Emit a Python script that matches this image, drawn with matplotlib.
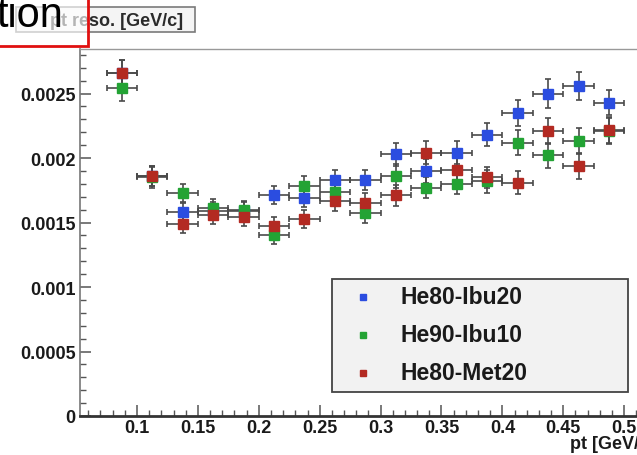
import numpy as np
import matplotlib
matplotlib.use("Agg")
import matplotlib.pyplot as plt
from matplotlib.patches import Rectangle
from matplotlib.lines import Line2D

plt.rcParams['font.family'] = ['Liberation Sans', 'DejaVu Sans']

# bin centres in pt [GeV/c], bin width 0.025
pt = [0.0875, 0.1125, 0.1375, 0.1625, 0.1875, 0.2125, 0.2375, 0.2625, 0.2875,
      0.3125, 0.3375, 0.3625, 0.3875, 0.4125, 0.4375, 0.4625, 0.4875]
pt_halfwidth = 0.0125

reso_ibu20 = [0.00266, 0.00186, 0.00158, 0.00159, 0.00159, 0.00171, 0.00169, 0.00183, 0.00183,
              0.00203, 0.00190, 0.00204, 0.00218, 0.00235, 0.00250, 0.00256, 0.00243]
err_ibu20 = [0.00010, 0.00008, 0.00007, 0.00007, 0.00007, 0.00007, 0.00007, 0.00008, 0.00008,
             0.00009, 0.00009, 0.00009, 0.00009, 0.00010, 0.00011, 0.00011, 0.00010]

reso_ibu10 = [0.00254, 0.00185, 0.00173, 0.00161, 0.00160, 0.00140, 0.00178, 0.00174, 0.00157,
              0.00186, 0.00177, 0.00180, 0.00182, 0.00212, 0.00202, 0.00213, 0.00221]
err_ibu10 = [0.00010, 0.00008, 0.00007, 0.00007, 0.00007, 0.00007, 0.00008, 0.00008, 0.00007,
             0.00009, 0.00008, 0.00008, 0.00009, 0.00010, 0.00010, 0.00010, 0.00010]

reso_met20 = [0.00266, 0.00186, 0.00149, 0.00156, 0.00154, 0.00147, 0.00153, 0.00167, 0.00165,
              0.00171, 0.00204, 0.00191, 0.00185, 0.00181, 0.00221, 0.00194, 0.00222]
err_met20 = [0.00010, 0.00008, 0.00007, 0.00007, 0.00007, 0.00007, 0.00007, 0.00008, 0.00008,
             0.00008, 0.00009, 0.00009, 0.00008, 0.00009, 0.00010, 0.00010, 0.00010]

labels = ['He80-Ibu20', 'He90-Ibu10', 'He80-Met20']
colors = ['#2b4de0', '#23a334', '#b32a22']

yticks = [0, 0.0005, 0.001, 0.0015, 0.002, 0.0025]
ytick_labels = ['0', '0.0005', '0.001', '0.0015', '0.002', '0.0025']
xticks = [0.1, 0.15, 0.2, 0.25, 0.3, 0.35, 0.4, 0.45, 0.5]
xtick_labels = ['0.1', '0.15', '0.2', '0.25', '0.3', '0.35', '0.4', '0.45', '0.5']

W, H = 637, 456
fig = plt.figure(figsize=(W / 100, H / 100), dpi=100)


def fx(x):
    return x / W


def fy(y):
    return 1 - y / H


# axes frame runs past the right edge of the (cropped) picture
ax = fig.add_axes([fx(80), fy(417), fx(655) - fx(80), fy(50) - fy(417)])

series = [(reso_ibu20, err_ibu20), (reso_ibu10, err_ibu10), (reso_met20, err_met20)]
for (vals, errs), c in zip(series, colors):
    ax.errorbar(pt, vals, xerr=pt_halfwidth, yerr=errs, fmt='s', color=c,
                ms=6.5, mec=c, ecolor='#4a4a4a', elinewidth=1.2, capsize=2.5, capthick=1.2)

ax.set_xlim(0.0532, 0.5253)
ax.set_ylim(0, 0.002845)
ax.set_xticks(xticks)
ax.set_xticklabels(xtick_labels)
ax.set_yticks(yticks)
ax.set_yticklabels(ytick_labels)
ax.set_xticks(np.arange(0.06, 0.53, 0.01), minor=True)
ax.set_yticks(np.arange(0, 0.00285, 0.0001), minor=True)
ax.tick_params(which='both', direction='in', top=False, right=False, colors='#555555',
               labelcolor='#1a1a1a')
ax.tick_params(which='major', length=8, width=1.1, pad=3, labelsize=13)
ax.tick_params(axis='x', which='major', pad=2)
ax.tick_params(which='minor', length=4, width=1.0)
for t in ax.get_xticklabels() + ax.get_yticklabels():
    t.set_fontweight('bold')

ax.spines['bottom'].set_linewidth(2.0)
ax.spines['bottom'].set_color('#333333')
ax.spines['left'].set_linewidth(1.2)
ax.spines['left'].set_color('#777777')
for s in ['top', 'right']:
    ax.spines[s].set_linewidth(1.0)
    ax.spines[s].set_color('#999999')

fig.text(fx(655), fy(445), 'pt [GeV/c]', ha='right', va='center',
         fontsize=13, fontweight='bold', color='#1a1a1a')

# legend box
fig.patches.append(Rectangle((fx(332), fy(393)), fx(628) - fx(332), fy(280) - fy(393),
                             transform=fig.transFigure, facecolor='#f2f2f2',
                             edgecolor='#444444', linewidth=1.3, zorder=5))
for i, (lab, c) in enumerate(zip(labels, colors)):
    yy = 298 + i * 38
    fig.lines.append(Line2D([fx(363)], [fy(yy)], marker='s', ms=5, color=c,
                            transform=fig.transFigure, zorder=6))
    fig.text(fx(400), fy(yy), lab, ha='left', va='center', fontsize=16.5,
             fontweight='bold', color='#1a1a1a', zorder=6)

# title box
fig.patches.append(Rectangle((fx(16), fy(33)), fx(195) - fx(16), fy(8) - fy(33),
                             transform=fig.transFigure, facecolor='#f4f4f4',
                             edgecolor='#7a7a7a', linewidth=1.2, zorder=5))
fig.text(fx(183), fy(21), 'pt reso. [GeV/c]', ha='right', va='center', fontsize=13,
         fontweight='bold', color='#2a2a2a', zorder=6)

# overlaid red box with partial word
fig.patches.append(Rectangle((fx(-5), fy(47)), fx(88) - fx(-5), fy(-5) - fy(47),
                             transform=fig.transFigure, facecolor=(1, 1, 1, 0.65),
                             edgecolor='#e01010', linewidth=2.0, zorder=7))
fig.text(fx(63), fy(27), 'tion', ha='right', va='baseline', fontsize=30,
         color='black', zorder=8)

fig.savefig('out.png', dpi=100)
